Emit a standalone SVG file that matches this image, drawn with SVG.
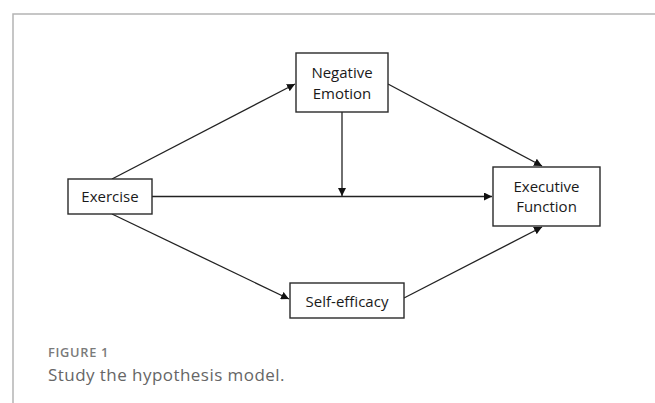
<svg xmlns="http://www.w3.org/2000/svg" width="655" height="403" viewBox="0 0 655 403">
<defs>
<style>
.box{fill:#fff;stroke:#2a2a2a;stroke-width:1.4}
.lbl{font-family:"Open Sans","Liberation Sans",sans-serif;font-size:15px;fill:#1a1a1a;text-anchor:middle}
.con{stroke:#222;stroke-width:1.3;fill:none;marker-end:url(#ah)}
.frame{stroke:#b4b4b4;stroke-width:1.5;fill:none}
</style>
<marker id="ah" viewBox="0 0 10 10" refX="10" refY="5" markerWidth="8" markerHeight="8" markerUnits="userSpaceOnUse" orient="auto">
<path d="M0,0 L10,5 L0,10 z" fill="#111"/>
</marker>
</defs>
<rect width="655" height="403" fill="#fff"/>
<path class="frame" d="M13,403 V14 H655"/>
<g id="connectors">
<line class="con" x1="112" y1="179" x2="295" y2="84"/>
<line class="con" x1="112" y1="214" x2="289" y2="299"/>
<line class="con" x1="152" y1="196.5" x2="492" y2="196.5"/>
<line class="con" x1="342" y1="112" x2="342" y2="196"/>
<line class="con" x1="388" y1="84" x2="542" y2="166"/>
<line class="con" x1="404" y1="298" x2="542" y2="227"/>
</g>
<g id="negative-emotion">
<rect class="box" x="296" y="53" width="92" height="59"/>
<text class="lbl" x="342" y="78">Negative</text>
<text class="lbl" x="342" y="98.5">Emotion</text>
</g>
<g id="exercise">
<rect class="box" x="68" y="179" width="84" height="35"/>
<text class="lbl" x="110" y="202">Exercise</text>
</g>
<g id="executive-function">
<rect class="box" x="493" y="167" width="107" height="59"/>
<text class="lbl" x="546.5" y="191.5">Executive</text>
<text class="lbl" x="546.5" y="212">Function</text>
</g>
<g id="self-efficacy">
<rect class="box" x="290" y="283" width="114" height="35"/>
<text class="lbl" x="347" y="306.5">Self-efficacy</text>
</g>
<g id="caption">
<text x="48" y="356.5" font-family="'Open Sans','Liberation Sans',sans-serif" font-size="12.8" font-weight="600" letter-spacing="0.7" fill="#7a7a7a">FIGURE 1</text>
<text x="48" y="380.5" font-family="'Open Sans','Liberation Sans',sans-serif" font-size="17" letter-spacing="0.45" fill="#666">Study the hypothesis model.</text>
</g>
</svg>
